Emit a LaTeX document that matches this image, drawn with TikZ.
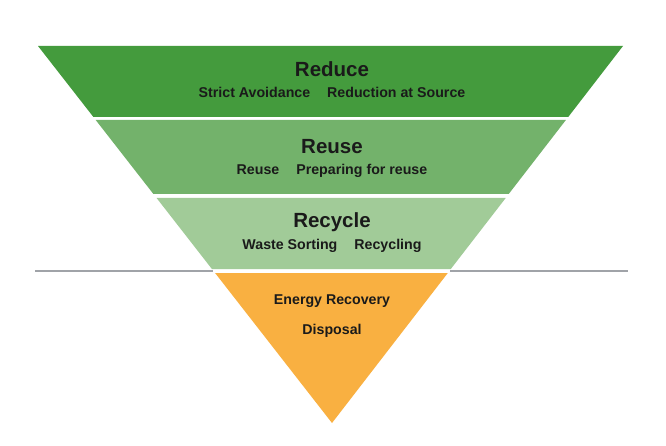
\documentclass[tikz,border=0pt]{standalone}
\usepackage{fontspec}
\setmainfont{Liberation Sans}
\definecolor{reducec}{HTML}{449B3D}
\definecolor{reusec}{HTML}{73B26B}
\definecolor{recyclec}{HTML}{A1CB98}
\definecolor{orangec}{HTML}{F9B041}
\definecolor{linec}{HTML}{A0A3A8}
\definecolor{txt}{HTML}{1A1A1A}
\begin{document}
\begin{tikzpicture}[x=1pt,y=-1pt,
  title/.style={font=\bfseries\fontsize{20.5}{23}\selectfont, text=txt, inner sep=0pt, anchor=center},
  sub/.style={font=\bfseries\fontsize{14.2}{16}\selectfont, text=txt, inner sep=0pt, anchor=center},
  band/.style={draw=none}]
\useasboundingbox (0,0) rectangle (666,446);
\fill[white] (0,0) rectangle (666,446);
% bands
\fill[reducec] (38,46) -- (623,46) -- (568.2,117) -- (93.4,117) -- cycle;
\fill[reusec] (95.7,120) -- (565.9,120) -- (508.7,194) -- (153.4,194) -- cycle;
\fill[recyclec] (156.6,198) -- (505.7,198) -- (450.8,269) -- (211.9,269) -- cycle;
\fill[orangec] (215.1,273) -- (447.8,273) -- (332,423) -- cycle;
% horizontal line
\coordinate (la) at (35,271);
\coordinate (lb) at (212.5,271);
\coordinate (ra) at (450,271);
\coordinate (rb) at (628,271);
\draw[linec, line width=2.6pt] (la) -- (lb);
\draw[linec, line width=2.6pt] (ra) -- (rb);
% texts
\node[title] (t1) at (332,69) {Reduce};
\node[sub] (s1) at (332,92.5) {Strict Avoidance\hspace{17pt}Reduction at Source};
\node[title] (t2) at (332,147) {Reuse};
\node[sub] (s2) at (332,171) {Reuse\hspace{17pt}Preparing for reuse};
\node[title] (t3) at (332,222) {Recycle};
\node[sub] (s3) at (332,246) {Waste Sorting\hspace{17pt}Recycling};
\node[sub] (e1) at (332,301) {Energy Recovery};
\node[sub] (e2) at (332,331) {Disposal};
\end{tikzpicture}
\end{document}
